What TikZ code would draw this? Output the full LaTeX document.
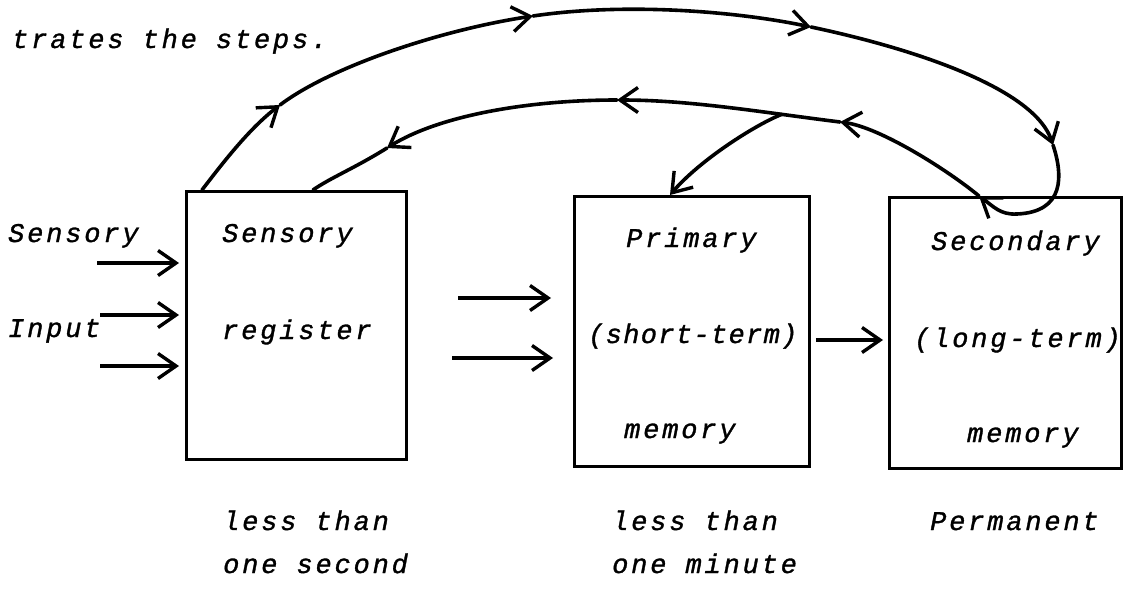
\documentclass[tikz,border=0pt]{standalone}
\usepackage{fontspec}
\newfontfamily\tw{Liberation Mono}[LetterSpace=10.5,FakeBold=1.2]
\newfontfamily\twn{Liberation Mono}[LetterSpace=5,FakeBold=1.2]
\usetikzlibrary{arrows.meta}

\tikzset{
  vtip/.tip={Straight Barb[length=18pt,width=25pt,line width=3.4pt]},
  txt/.style={anchor=base west, inner sep=0pt, font=\tw\itshape\fontsize{27}{30}\selectfont},
  tight/.style={txt, font=\twn\itshape\fontsize{27}{30}\selectfont},
  mem/.style={draw, line width=2.8pt, inner sep=0pt, anchor=north west},
  feed/.style={line width=3.6pt, -vtip},
  flow/.style={line width=3.6pt, line cap=round},
}

\begin{document}
\begin{tikzpicture}[x=1pt,y=-1pt]
  \path[use as bounding box] (0,0) rectangle (1138,589);

  % caption fragment
  \node[txt] (cap) at (12,48) {trates the steps.};

  % the three stores
  \node[mem, minimum width=220pt, minimum height=268pt] (s1) at (185,190) {};
  \node[mem, minimum width=235pt, minimum height=270pt] (s2) at (573,195) {};
  \node[mem, minimum width=232pt, minimum height=271pt] (s3) at (888,196) {};

  % labels inside the stores
  \node[txt] (s1a) at (222,242) {Sensory};
  \node[txt] (s1b) at (222,339) {register};
  \node[txt] (s2a) at (626,247) {Primary};
  \node[tight] (s2b) at (588,343) {(short-term)};
  \node[txt] (s2c) at (624,438) {memory};
  \node[txt] (s3a) at (931,250) {Secondary};
  \node[txt] (s3b) at (914,347) {(long-term)};
  \node[txt] (s3c) at (967,442) {memory};

  % input labels
  \node[txt] (inA) at (8,242) {Sensory};
  \node[txt] (inB) at (8,337) {Input};

  % durations
  \node[txt] (d1a) at (223,530) {less than};
  \node[txt] (d1b) at (223,573) {one second};
  \node[txt] (d2a) at (612,530) {less than};
  \node[txt] (d2b) at (612,573) {one minute};
  \node[txt] (d3a) at (930,530) {Permanent};

  % sensory input arrows
  \coordinate (i1) at (97,263);
  \coordinate (i2) at (100,315);
  \coordinate (i3) at (100,366);
  \foreach \c in {i1,i2,i3}
    \draw[feed, shorten >=6pt] (\c) -- (s1.west |- \c);

  % arrows into primary memory
  \coordinate (m1a) at (458,298);
  \coordinate (m1b) at (551,298);
  \coordinate (m2a) at (452,358);
  \coordinate (m2b) at (553,358);
  \draw[feed] (m1a) -- (m1b);
  \draw[feed] (m2a) -- (m2b);

  % primary -> secondary
  \coordinate (h) at (850,340);
  \draw[feed, shorten <=5pt, shorten >=5pt] (s2.east |- h) -- (s3.west |- h);

  % end points of the loops on the store tops
  \coordinate (o0) at ([xshift=17pt]s1.north west);
  \coordinate (i0) at ([xshift=128pt]s1.north west);
  \coordinate (lp) at ([xshift=91pt]s3.north west);
  \coordinate (b2) at ([xshift=97pt]s2.north west);

  % arrow points along the outer loop
  \coordinate (oa) at (280,105);
  \coordinate (ob) at (533,16);
  \coordinate (oc) at (811,27);
  \coordinate (od) at (1053,145);
  % arrow points along the return loop
  \coordinate (ra) at (840,122);
  \coordinate (rb) at (617,100);
  \coordinate (rc) at (387,148);

  % outer loop: sensory register -> over the top -> secondary memory
  \draw[flow, -vtip] (o0) .. controls (225,160) and (250,128) .. (oa);
  \draw[flow, -vtip] (oa) .. controls (330,67) and (440,30) .. (ob);
  \draw[flow, -vtip] (ob) .. controls (620,3) and (730,10) .. (oc);
  \draw[flow, -vtip] (oc) .. controls (920,50) and (1035,90) .. (od);
  \draw[flow, -vtip] (od) .. controls (1063,175) and (1065,212) .. (1017,214)
                          .. controls (1000,215) and (993,206) .. (lp);

  % return loop: secondary memory -> back to the sensory register
  \draw[flow, -vtip] (lp) .. controls (949,171) and (880,127) .. (ra);
  \draw[flow, -vtip] (ra) .. controls (760,112) and (690,100) .. coordinate[pos=0.25] (j) (rb);
  \draw[flow, -vtip] (rb) .. controls (530,100) and (440,115) .. (rc);
  \draw[flow] (rc) .. controls (355,168) and (330,178) .. (i0);

  % branch down into primary memory
  \draw[flow, -vtip] (j) .. controls (755,125) and (700,160) .. (b2);
\end{tikzpicture}
\end{document}
